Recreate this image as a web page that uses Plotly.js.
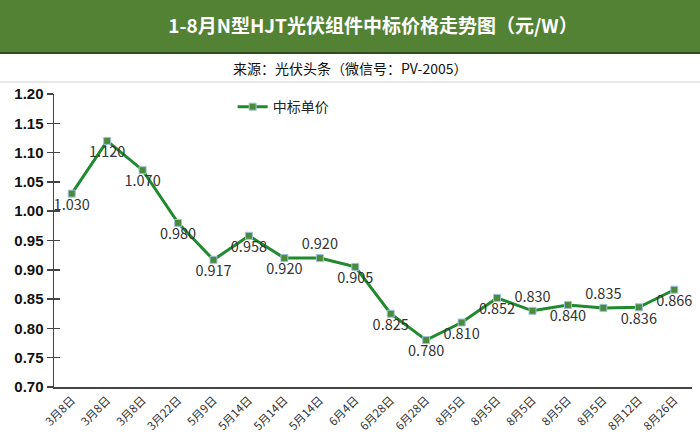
<!DOCTYPE html>
<html>
<head>
<meta charset="utf-8">
<script src="https://cdn.plot.ly/plotly-3.0.1.min.js"></script>
<style>
  html, body { margin: 0; padding: 0; background: #fff; }
  #chart { width: 700px; height: 444px; }
</style>
</head>
<body>
<div id="chart"></div>
<script>
var dates = ['3月8日','3月8日','3月8日','3月22日','5月9日','5月14日','5月14日','5月14日','6月4日',
             '6月28日','6月28日','8月5日','8月5日','8月5日','8月5日','8月5日','8月12日','8月26日'];
var prices = [1.030,1.120,1.070,0.980,0.917,0.958,0.920,0.920,0.905,
              0.825,0.780,0.810,0.852,0.830,0.840,0.835,0.836,0.866];
// label above the point for these, below for the rest
var labelsAbove = [7, 13, 15];

var idx = dates.map(function(d, i){ return i; });
var textPos = idx.map(function(i){
    return labelsAbove.indexOf(i) >= 0 ? 'top center' : 'bottom center';
});

var M = {l: 54, r: 8, t: 94, b: 57};
var W = 700, H = 444;
var pw = W - M.l - M.r, ph = H - M.t - M.b;
function py(pix){ return 1 + (M.t - pix) / ph; }   // page y pixel -> paper y
var x0 = -M.l / pw, x1 = 1 + M.r / pw;

var font = '"Noto Sans CJK SC", "Noto Sans", sans-serif';

var trace = {
    x: idx,
    y: prices,
    name: '中标单价',
    type: 'scatter',
    mode: 'lines+markers+text',
    line: {color: '#1f8a2e', width: 3},
    marker: {symbol: 'square', size: 7, color: '#4b8a3b', line: {color: '#9ec3dc', width: 1}},
    text: prices.map(function(v){ return v.toFixed(3); }),
    textposition: textPos,
    textfont: {family: font, size: 14.5, color: '#333'},
    cliponaxis: false
};

// empty trace on a twin axis, only so the y ticks cross the axis line
var tickTwin = {x: [], y: [], yaxis: 'y2', showlegend: false, hoverinfo: 'skip', type: 'scatter'};

var layout = {
    width: W, height: H,
    margin: M,
    paper_bgcolor: '#fff',
    plot_bgcolor: '#fff',
    showlegend: true,
    legend: {x: 0.28, y: 1.01, xanchor: 'left', yanchor: 'top', bgcolor: 'rgba(0,0,0,0)',
             font: {family: font, size: 14, color: '#222'}},
    title: {
        text: '<b>1-8月N型HJT光伏组件中标价格走势图（元/W）</b>',
        font: {family: font, size: 19, color: '#fff'},
        x: 0.5, xref: 'paper', xanchor: 'center',
        y: 1 - 26 / H, yref: 'container', yanchor: 'middle'
    },
    xaxis: {
        range: [-0.5, 17.5],
        tickvals: idx,
        ticktext: dates,
        tickangle: -45,
        tickfont: {family: font, size: 11.5, color: '#333'},
        showgrid: false,
        zeroline: false,
        showline: true,
        linecolor: '#444',
        linewidth: 2,
        ticks: ''
    },
    yaxis: {
        range: [0.70, 1.20],
        dtick: 0.05,
        tickformat: '.2f',
        tickfont: {family: '"Liberation Sans", Arial, sans-serif', size: 15, color: '#111', weight: 'bold'},
        showgrid: false,
        zeroline: false,
        showline: true,
        linecolor: '#444',
        linewidth: 1.5,
        ticks: 'outside',
        ticklen: 6,
        tickcolor: '#444',
        tickwidth: 1.5
    },
    yaxis2: {
        overlaying: 'y',
        side: 'left',
        range: [0.70, 1.20],
        dtick: 0.05,
        showticklabels: false,
        showgrid: false,
        zeroline: false,
        showline: false,
        ticks: 'inside',
        ticklen: 6,
        tickcolor: '#444',
        tickwidth: 1.5
    },
    shapes: [
        {type: 'rect', xref: 'paper', yref: 'paper', x0: x0, x1: x1, y0: py(52), y1: py(0),
         fillcolor: '#548235', line: {width: 0}, layer: 'below'},
        {type: 'line', xref: 'paper', yref: 'paper', x0: x0, x1: x1, y0: py(53), y1: py(53),
         line: {color: '#2f4a1d', width: 2}},
        {type: 'line', xref: 'paper', yref: 'paper', x0: x0, x1: x1, y0: py(82), y1: py(82),
         line: {color: '#e6e6e6', width: 2}}
    ],
    annotations: [
        {text: '来源：光伏头条（微信号：PV-2005）', xref: 'paper', yref: 'paper',
         x: (350 - M.l) / pw, y: py(68), xanchor: 'center', yanchor: 'middle', showarrow: false,
         font: {family: font, size: 14, color: '#111'}}
    ]
};

Plotly.newPlot('chart', [trace, tickTwin], layout, {displayModeBar: false, staticPlot: true});
</script>
</body>
</html>
